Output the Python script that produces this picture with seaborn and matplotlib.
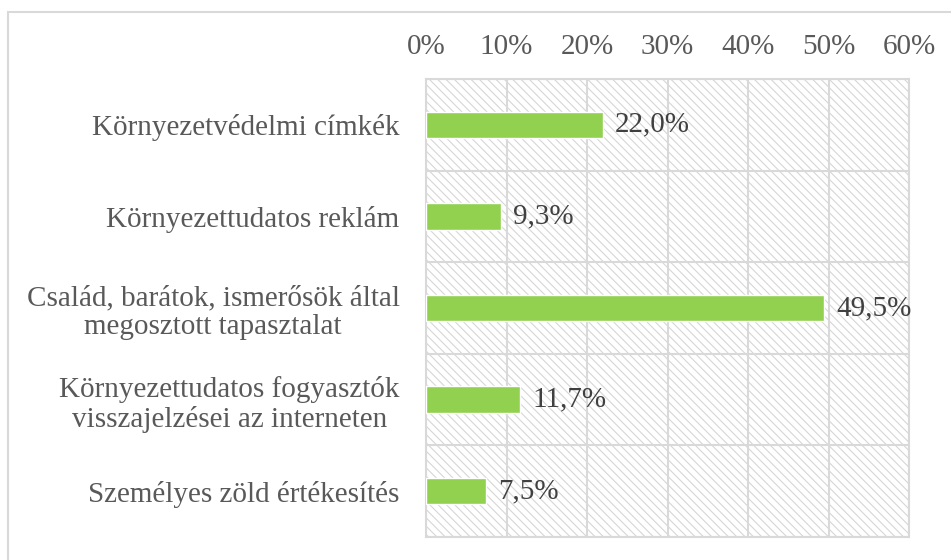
"""Horizontal bar chart: sources of environmental information (share of respondents)."""

import matplotlib

matplotlib.use("Agg")

import matplotlib.pyplot as plt
import numpy as np
import pandas as pd
import seaborn as sns
from matplotlib.patches import Rectangle
from matplotlib.ticker import FixedLocator, FuncFormatter

categories = [
    "Környezetvédelmi címkék",
    "Környezettudatos reklám",
    "Család, barátok, ismerősök által\nmegosztott tapasztalat",
    "Környezettudatos fogyasztók\nvisszajelzései az interneten",
    "Személyes zöld értékesítés",
]
values = [22.0, 9.3, 49.5, 11.7, 7.5]
x_ticks = [0, 10, 20, 30, 40, 50, 60]

GREEN = "#92D050"
GRID = "#D9D9D9"
TICK_TEXT = "#595959"
VALUE_TEXT = "#404040"
FS = 21


def main() -> None:
    sns.set_theme(style="white")
    plt.rcParams["font.family"] = ["Liberation Serif", "DejaVu Serif"]
    plt.rcParams["hatch.linewidth"] = 0.8

    df = pd.DataFrame({"category": categories, "value": values})

    fig = plt.figure(figsize=(9.51, 5.60), dpi=100)
    # light frame around the chart area, partly cut off by the image edge
    fig.patches.append(
        Rectangle((8 / 951, -0.05), 1.2, 1 - 12 / 560 + 0.05, transform=fig.transFigure,
                  fill=False, edgecolor=GRID, lw=1.5, zorder=0)
    )
    ax = fig.add_axes([426 / 951, 1 - 537 / 560, 483 / 951, 458 / 560])

    # hatched plot background
    ax.add_patch(
        Rectangle((0, 0), 1, 1, transform=ax.transAxes, facecolor="white",
                  edgecolor="#D6D6D6", hatch="\\\\\\\\", lw=0, zorder=0)
    )

    sns.barplot(data=df, y="category", x="value", orient="h", color=GREEN,
                width=0.29, saturation=1, ax=ax, zorder=3)

    ax.set_xlim(0, 60)
    ax.set_ylim(len(categories) - 0.5, -0.5)
    ax.set_xlabel("")
    ax.set_ylabel("")

    ax.xaxis.tick_top()
    ax.set_xticks(x_ticks)
    ax.xaxis.set_major_formatter(FuncFormatter(lambda v, _: f"{v:.0f}%"))
    ax.tick_params(axis="x", length=0, pad=14, labelsize=FS, labelcolor=TICK_TEXT)

    ax.yaxis.set_minor_locator(FixedLocator(np.arange(-0.5, len(categories), 1.0)))
    ax.tick_params(axis="y", which="major", length=0, pad=19, labelsize=FS,
                   labelcolor=TICK_TEXT)
    ax.tick_params(axis="y", which="minor", length=6, width=1.5, color=GRID)
    for lbl in ax.get_yticklabels():
        lbl.set_multialignment("center")
        lbl.set_linespacing(1.15)

    ax.grid(axis="x", which="major", color=GRID, lw=1.5, zorder=1)
    ax.grid(axis="y", which="minor", color=GRID, lw=1.5, zorder=1)
    ax.set_axisbelow(True)
    for spine in ax.spines.values():
        spine.set_visible(True)
        spine.set_color(GRID)
        spine.set_linewidth(1.5)

    for i, v in enumerate(values):
        ax.text(v + 1.5, i, f"{v:.1f}%".replace(".", ","), va="center", ha="left",
                fontsize=FS, color=VALUE_TEXT, zorder=4)

    fig.savefig("out.png", dpi=100)


if __name__ == "__main__":
    main()
